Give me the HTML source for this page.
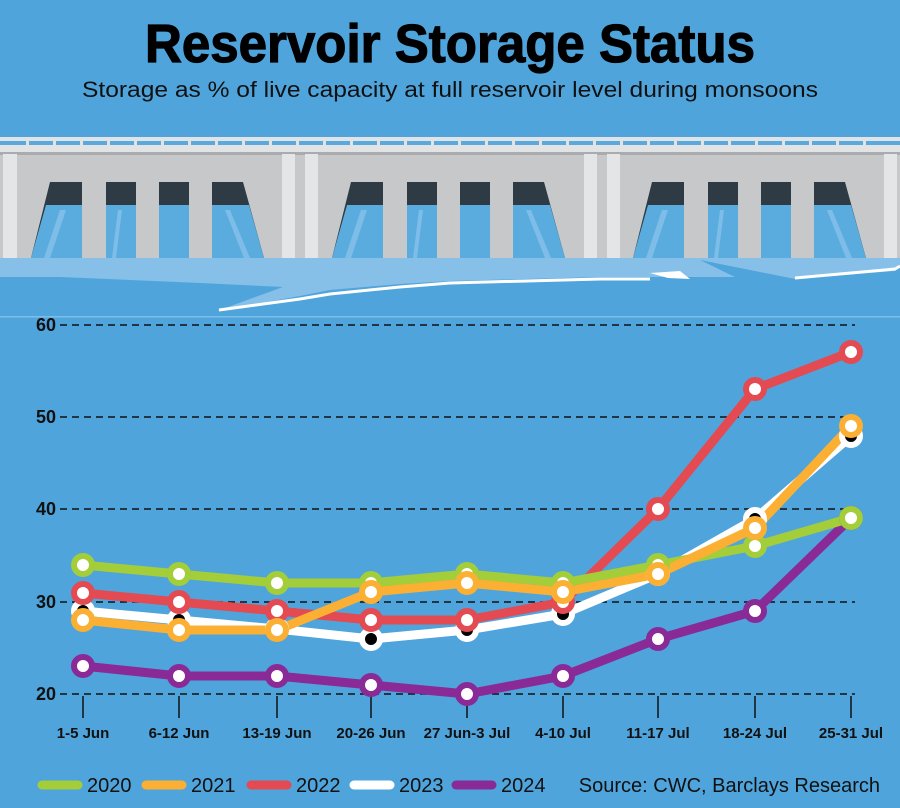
<!DOCTYPE html>
<html><head><meta charset="utf-8"><style>
body{margin:0;background:#4fa4dc;}
svg{display:block}
</style></head><body>
<svg width="900" height="808" viewBox="0 0 900 808" xmlns="http://www.w3.org/2000/svg" font-family="Liberation Sans, sans-serif">
<rect width="900" height="808" fill="#4fa4dc"/>
<text x="145" y="62" font-size="54" font-weight="bold" fill="#000" textLength="610" lengthAdjust="spacingAndGlyphs" stroke="#000" stroke-width="1.2">Reservoir Storage Status</text>
<text x="82" y="97" font-size="22" fill="#111" textLength="736" lengthAdjust="spacingAndGlyphs">Storage as % of live capacity at full reservoir level during monsoons</text>
<!-- dam -->
<rect x="0" y="137" width="900" height="16" fill="#e2e3e5"/>
<rect x="0" y="141" width="900" height="4" fill="#5aa9de"/>
<g fill="#e2e3e5"><rect x="26" y="139" width="3" height="8"/><rect x="53" y="139" width="3" height="8"/><rect x="80" y="139" width="3" height="8"/><rect x="107" y="139" width="3" height="8"/><rect x="134" y="139" width="3" height="8"/><rect x="161" y="139" width="3" height="8"/><rect x="188" y="139" width="3" height="8"/><rect x="215" y="139" width="3" height="8"/><rect x="242" y="139" width="3" height="8"/><rect x="269" y="139" width="3" height="8"/><rect x="296" y="139" width="3" height="8"/><rect x="323" y="139" width="3" height="8"/><rect x="350" y="139" width="3" height="8"/><rect x="377" y="139" width="3" height="8"/><rect x="404" y="139" width="3" height="8"/><rect x="431" y="139" width="3" height="8"/><rect x="458" y="139" width="3" height="8"/><rect x="485" y="139" width="3" height="8"/><rect x="512" y="139" width="3" height="8"/><rect x="539" y="139" width="3" height="8"/><rect x="566" y="139" width="3" height="8"/><rect x="593" y="139" width="3" height="8"/><rect x="620" y="139" width="3" height="8"/><rect x="647" y="139" width="3" height="8"/><rect x="674" y="139" width="3" height="8"/><rect x="701" y="139" width="3" height="8"/><rect x="728" y="139" width="3" height="8"/><rect x="755" y="139" width="3" height="8"/><rect x="782" y="139" width="3" height="8"/><rect x="809" y="139" width="3" height="8"/><rect x="836" y="139" width="3" height="8"/><rect x="863" y="139" width="3" height="8"/></g>
<rect x="0" y="152" width="900" height="106" fill="#c7c8ca"/>
<rect x="0" y="152" width="900" height="3" fill="#a9abae"/>
<g fill="#e4e5e6">
<rect x="3" y="154" width="14" height="104"/><rect x="282" y="154" width="13" height="104"/><rect x="305" y="154" width="13" height="104"/><rect x="584" y="154" width="13" height="104"/><rect x="607" y="154" width="13" height="104"/><rect x="884" y="154" width="13" height="104"/>
</g>
<g id="gates">
<polygon points="50,182 82,182 82,258 31,258" fill="#2e3a44"/>
<rect x="106" y="182" width="30" height="76" fill="#2e3a44"/>
<rect x="159" y="182" width="30" height="76" fill="#2e3a44"/>
<polygon points="212,182 243,182 264,258 212,258" fill="#2e3a44"/>
<polygon points="46,205 82,205 82,258 31,258" fill="#5aacdf"/>
<rect x="106" y="205" width="30" height="53" fill="#5aacdf"/>
<rect x="159" y="205" width="30" height="53" fill="#5aacdf"/>
<polygon points="212,205 249,205 264,258 212,258" fill="#5aacdf"/>
<g fill="#7dbde8"><polygon points="60,210 66,210 50,258 44,258"/><polygon points="118,210 122,210 116,258 112,258"/><polygon points="225,210 230,210 250,258 244,258"/></g>
</g>
<use href="#gates" x="301"/>
<use href="#gates" x="602"/>
<polygon fill="#86bfe8" points="0,258 900,258 900,265 895,271 795,279 700,260 735,277 600,277 450,281 400,284 330,290 300,296 217,311 283,287 200,283 60,277 0,277"/>
<polyline fill="none" stroke="#fff" stroke-width="3" points="219,310 300,299 330,294 400,287 450,283 600,279 650,279"/>
<polyline fill="none" stroke="#fff" stroke-width="3" points="795,278 895,269 900,266"/>
<polygon fill="#fff" points="650,273 668,278 690,279 680,271"/>
<rect x="0" y="316" width="900" height="1.5" fill="#7dbde8"/>
<!-- grid -->
<g stroke="#111" stroke-width="1.6" stroke-dasharray="7,5">
<line x1="60" y1="325" x2="855" y2="325"/><line x1="60" y1="417" x2="855" y2="417"/><line x1="60" y1="509" x2="855" y2="509"/><line x1="60" y1="602" x2="855" y2="602"/><line x1="60" y1="694" x2="855" y2="694"/>
</g>
<g font-size="18" font-weight="bold" fill="#111" text-anchor="end">
<text x="56" y="331">60</text><text x="56" y="423">50</text><text x="56" y="515">40</text><text x="56" y="608">30</text><text x="56" y="700">20</text>
</g>
<g stroke="#111" stroke-width="1.5">
<line x1="83" y1="696" x2="83" y2="718"/><line x1="179" y1="696" x2="179" y2="718"/><line x1="277" y1="696" x2="277" y2="718"/><line x1="371" y1="696" x2="371" y2="718"/><line x1="467" y1="696" x2="467" y2="718"/><line x1="563" y1="696" x2="563" y2="718"/><line x1="658" y1="696" x2="658" y2="718"/><line x1="755" y1="696" x2="755" y2="718"/><line x1="851" y1="696" x2="851" y2="718"/>
</g>
<g font-size="15" font-weight="bold" fill="#111" text-anchor="middle">
<text x="83" y="738">1-5 Jun</text><text x="179" y="738">6-12 Jun</text><text x="277" y="738">13-19 Jun</text><text x="371" y="738">20-26 Jun</text><text x="467" y="738">27 Jun-3 Jul</text><text x="563" y="738">4-10 Jul</text><text x="658" y="738">11-17 Jul</text><text x="755" y="738">18-24 Jul</text><text x="851" y="738">25-31 Jul</text>
</g>
<g fill="none" stroke-width="9" stroke-linejoin="round">
<polyline stroke="#8a2a97" points="83,666 179,676 277,676 371,685 467,694 563,676 658,639 755,611 851,518"/>
<polyline stroke="#fff" points="83,611 179,620 277,629 371,639 467,630 563,614 658,574 755,519 851,436"/>
<polyline stroke="#e44a52" points="83,593 179,602 277,611 371,620 467,620 563,602 658,509 755,389 851,352"/>
<polyline stroke="#a3cd39" points="83,565 179,574 277,583 371,583 467,574 563,583 658,565 755,546 851,518"/>
<polyline stroke="#fbb034" points="83,620 179,630 277,630 371,592 467,583 563,592 658,574 755,528 851,426"/>
</g>
<g stroke-width="6" fill="#fff">
<g stroke="#8a2a97"><circle cx="83" cy="666" r="9"/><circle cx="179" cy="676" r="9"/><circle cx="277" cy="676" r="9"/><circle cx="371" cy="685" r="9"/><circle cx="467" cy="694" r="9"/><circle cx="563" cy="676" r="9"/><circle cx="658" cy="639" r="9"/><circle cx="755" cy="611" r="9"/><circle cx="851" cy="518" r="9"/></g>
<g stroke="#fff" fill="#000"><circle cx="83" cy="611" r="9"/><circle cx="179" cy="620" r="9"/><circle cx="277" cy="629" r="9"/><circle cx="371" cy="639" r="9"/><circle cx="467" cy="630" r="9"/><circle cx="563" cy="614" r="9"/><circle cx="658" cy="574" r="9"/><circle cx="755" cy="519" r="9"/><circle cx="851" cy="436" r="9"/></g>
<g stroke="#e44a52"><circle cx="83" cy="593" r="9"/><circle cx="179" cy="602" r="9"/><circle cx="277" cy="611" r="9"/><circle cx="371" cy="620" r="9"/><circle cx="467" cy="620" r="9"/><circle cx="563" cy="602" r="9"/><circle cx="658" cy="509" r="9"/><circle cx="755" cy="389" r="9"/><circle cx="851" cy="352" r="9"/></g>
<g stroke="#a3cd39"><circle cx="83" cy="565" r="9"/><circle cx="179" cy="574" r="9"/><circle cx="277" cy="583" r="9"/><circle cx="371" cy="583" r="9"/><circle cx="467" cy="574" r="9"/><circle cx="563" cy="583" r="9"/><circle cx="658" cy="565" r="9"/><circle cx="755" cy="546" r="9"/><circle cx="851" cy="518" r="9"/></g>
<g stroke="#fbb034"><circle cx="83" cy="620" r="9"/><circle cx="179" cy="630" r="9"/><circle cx="277" cy="630" r="9"/><circle cx="371" cy="592" r="9"/><circle cx="467" cy="583" r="9"/><circle cx="563" cy="592" r="9"/><circle cx="658" cy="574" r="9"/><circle cx="755" cy="528" r="9"/><circle cx="851" cy="426" r="9"/></g>
</g>
<!-- legend -->
<g stroke-width="9" stroke-linecap="round">
<line x1="42" y1="785" x2="78" y2="785" stroke="#a3cd39"/>
<line x1="146" y1="785" x2="182" y2="785" stroke="#fbb034"/>
<line x1="251" y1="785" x2="287" y2="785" stroke="#e44a52"/>
<line x1="354" y1="785" x2="390" y2="785" stroke="#fff"/>
<line x1="456" y1="785" x2="492" y2="785" stroke="#8a2a97"/>
</g>
<g font-size="20" fill="#111">
<text x="87" y="792">2020</text><text x="191" y="792">2021</text><text x="296" y="792">2022</text><text x="399" y="792">2023</text><text x="501" y="792">2024</text>
<text x="880" y="792" text-anchor="end">Source: CWC, Barclays Research</text>
</g>
</svg>
</body></html>
